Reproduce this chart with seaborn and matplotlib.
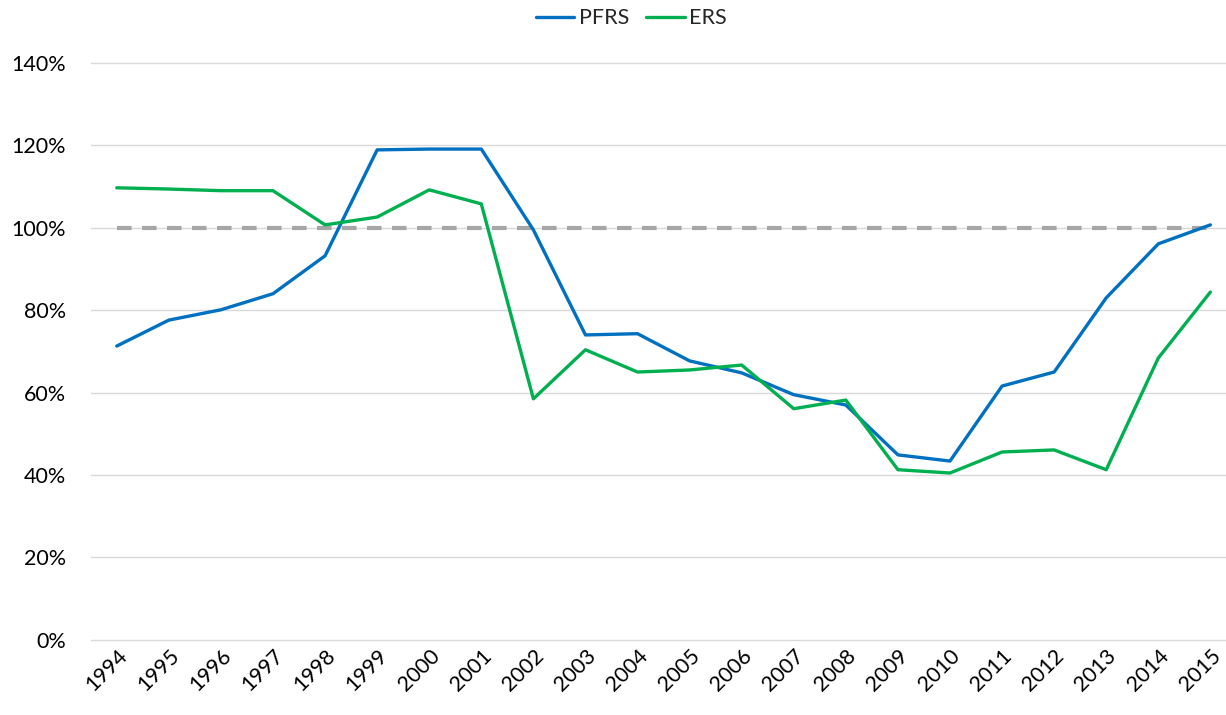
import numpy as np
import pandas as pd
import seaborn as sns
import matplotlib.pyplot as plt
from matplotlib.ticker import PercentFormatter

years = [str(y) for y in range(1994, 2016)]
pfrs = [71.3, 77.6, 80.1, 84.0, 93.2, 118.9, 119.1, 119.1, 99.5, 74.0, 74.3,
        67.7, 64.8, 59.5, 57.0, 44.9, 43.4, 61.6, 65.0, 83.0, 96.1, 100.7]
ers = [109.7, 109.4, 109.0, 109.0, 100.7, 102.6, 109.2, 105.8, 58.5, 70.4, 65.0,
       65.5, 66.7, 56.1, 58.2, 41.3, 40.5, 45.6, 46.1, 41.3, 68.4, 84.4]
target = [100.0] * len(years)

df = pd.DataFrame({"Year": years, "PFRS": pfrs, "ERS": ers, "Target": target})

sns.set_style("white")
plt.rcParams['font.family'] = ['Lato', 'DejaVu Sans']

fig = plt.figure(figsize=(12.26, 7.15), dpi=100)
ax = fig.add_axes([0.074, 0.105, 0.926, 0.807])

x = np.arange(len(years))
sns.lineplot(x=x, y=df["Target"], color="#A6A6A6", linewidth=3, linestyle=(0, (3.5, 2.5)),
             ax=ax, legend=False)
sns.lineplot(x=x, y=df["PFRS"], color="#0070C0", linewidth=2.4, ax=ax, label="PFRS")
sns.lineplot(x=x, y=df["ERS"], color="#00B050", linewidth=2.4, ax=ax, label="ERS")

ax.set_ylim(0, 140)
ax.set_yticks(np.arange(0, 141, 20))
ax.yaxis.set_major_formatter(PercentFormatter(decimals=0))
ax.set_xlim(-0.5, 21.3)
ax.set_xticks(x)
ax.set_xticklabels(years, rotation=45, ha="right", rotation_mode="anchor")
ax.tick_params(axis="both", labelsize=15.5, length=0, colors="#000000")
ax.tick_params(axis="y", pad=18)
ax.tick_params(axis="x", pad=4)
ax.grid(axis="y", color="#D9D9D9", linewidth=1)
for gl in ax.get_ygridlines():
    gl.set_clip_on(False)
ax.set_axisbelow(True)
for s in ax.spines.values():
    s.set_visible(False)
ax.set_xlabel("")
ax.set_ylabel("")

ax.legend(loc="upper center", bbox_to_anchor=(0.476, 1.128), ncol=2, frameon=False,
          fontsize=15.5, handlelength=1.8, columnspacing=0.8, handletextpad=0.2)

fig.savefig("out.png", dpi=100)
